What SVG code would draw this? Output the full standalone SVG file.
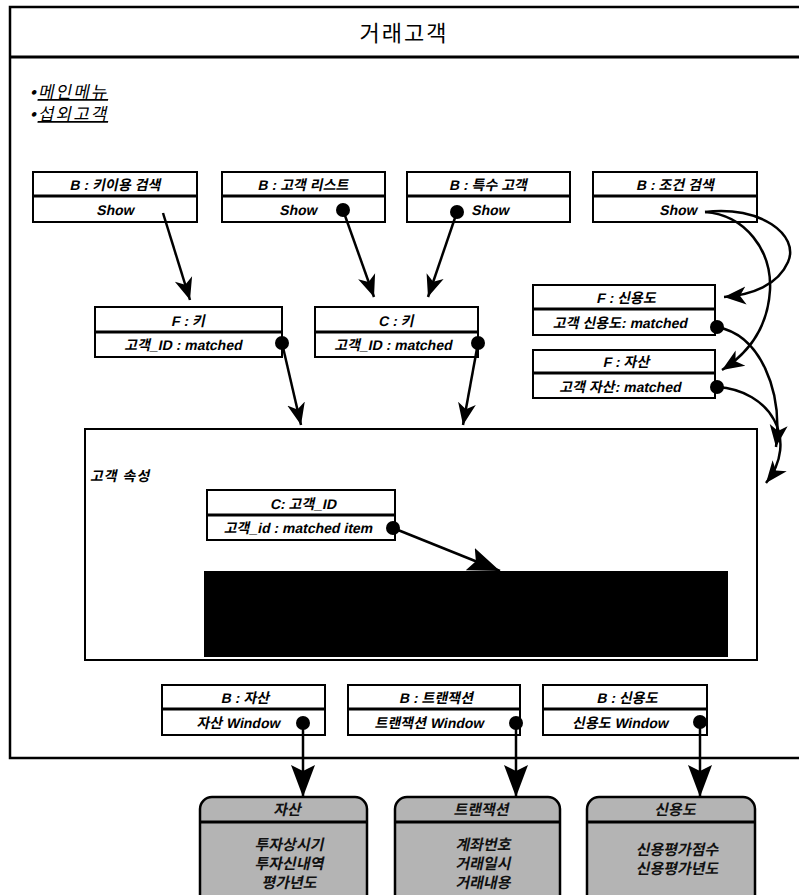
<svg xmlns="http://www.w3.org/2000/svg" width="799" height="895" viewBox="0 0 799 895">
<style>
.t{font-family:"Liberation Sans","Noto Sans CJK KR",sans-serif;font-weight:bold;font-size:14px;fill:#000;text-anchor:middle}
.box{fill:#fff;stroke:#000;stroke-width:2}
.div{stroke:#000;stroke-width:3}
.frame{fill:none;stroke:#000;stroke-width:2.5}
.con{fill:none;stroke:#000;stroke-width:2.5}
.dot{fill:#000}
.gray{fill:#b4b4b4;stroke:#000;stroke-width:2.5}
.gt{font-family:"Liberation Sans","Noto Sans CJK KR",sans-serif;font-weight:bold;font-size:15px;fill:#111;text-anchor:middle}
.menu{font-family:"Liberation Sans","Noto Sans CJK KR",sans-serif;font-size:17px;letter-spacing:2px;fill:#000}
</style>
<defs>
<marker id="ah" viewBox="-22 -10 24 20" refX="0" refY="0" markerWidth="24" markerHeight="20" markerUnits="userSpaceOnUse" orient="auto">
<path d="M0,0 L-22,-9 L-16,0 L-22,9 z" fill="#000"/>
</marker>
<marker id="ah2" viewBox="-32 -13 34 26" refX="0" refY="0" markerWidth="34" markerHeight="26" markerUnits="userSpaceOnUse" orient="auto">
<path d="M0,0 L-32,-12 L-26,0 L-32,12 z" fill="#000"/>
</marker>
</defs>
<rect width="799" height="895" fill="#fff"/>
<g id="frame">
<path class="frame" d="M810,7 H10 V758 H810"/>
<line x1="10" y1="57" x2="799" y2="57" stroke="#000" stroke-width="3"/>
<text x="404" y="41" font-family="'Noto Sans CJK KR',sans-serif" font-size="22" letter-spacing="2" text-anchor="middle">거래고객</text>
<text class="menu" transform="matrix(1,0,-0.21,1,30,98)">•<tspan text-decoration="underline">메인메뉴</tspan></text>
<text class="menu" transform="matrix(1,0,-0.21,1,30,120)">•<tspan text-decoration="underline">섭외고객</tspan></text>
</g>
<g id="inner">
<rect x="85" y="429" width="672" height="231" fill="none" stroke="#000" stroke-width="2"/>
<text transform="matrix(1,0,-0.21,1,90,481)" font-family="'Liberation Sans','Noto Sans CJK KR',sans-serif" font-weight="bold" font-size="14" letter-spacing="1">고객 속성</text>
<rect x="204" y="571" width="524" height="86" fill="#000"/>
</g>
<g id="b-key">
<rect class="box" x="33" y="172" width="164" height="50"/><line class="div" x1="33" y1="196" x2="197" y2="196"/>
<text class="t" transform="matrix(1,0,-0.21,1,115,190)">B : 키이용 검색</text><text class="t" transform="matrix(1,0,-0.21,1,115,215)">Show</text>
</g>
<g id="b-list">
<rect class="box" x="222" y="172" width="163" height="50"/><line class="div" x1="222" y1="196" x2="385" y2="196"/>
<text class="t" transform="matrix(1,0,-0.21,1,303,190)">B : 고객 리스트</text><text class="t" transform="matrix(1,0,-0.21,1,298,215)">Show</text>
</g>
<g id="b-special">
<rect class="box" x="407" y="172" width="163" height="50"/><line class="div" x1="407" y1="196" x2="570" y2="196"/>
<text class="t" transform="matrix(1,0,-0.21,1,488,190)">B : 특수 고객</text><text class="t" transform="matrix(1,0,-0.21,1,490,215)">Show</text>
</g>
<g id="b-cond">
<rect class="box" x="593" y="172" width="164" height="50"/><line class="div" x1="593" y1="196" x2="757" y2="196"/>
<text class="t" transform="matrix(1,0,-0.21,1,675,190)">B : 조건 검색</text><text class="t" transform="matrix(1,0,-0.21,1,678,215)">Show</text>
</g>
<g id="f-key">
<rect class="box" x="95" y="307" width="187" height="50"/><line class="div" x1="95" y1="332" x2="282" y2="332"/>
<text class="t" transform="matrix(1,0,-0.21,1,188,326)">F : 키</text><text class="t" transform="matrix(1,0,-0.21,1,183,350)">고객_ID : matched</text>
</g>
<g id="c-key">
<rect class="box" x="315" y="307" width="163" height="50"/><line class="div" x1="315" y1="332" x2="478" y2="332"/>
<text class="t" transform="matrix(1,0,-0.21,1,396,326)">C : 키</text><text class="t" transform="matrix(1,0,-0.21,1,393,350)">고객_ID : matched</text>
</g>
<g id="f-credit">
<rect class="box" x="533" y="285" width="182" height="50"/><line class="div" x1="533" y1="309" x2="715" y2="309"/>
<text class="t" transform="matrix(1,0,-0.21,1,626,303)">F : 신용도</text><text class="t" transform="matrix(1,0,-0.21,1,620,328)">고객 신용도: matched</text>
</g>
<g id="f-asset">
<rect class="box" x="533" y="350" width="182" height="48"/><line class="div" x1="533" y1="373" x2="715" y2="373"/>
<text class="t" transform="matrix(1,0,-0.21,1,626,367)">F : 자산</text><text class="t" transform="matrix(1,0,-0.21,1,620,392)">고객 자산: matched</text>
</g>
<g id="c-custid">
<rect class="box" x="207" y="490" width="188" height="50"/><line class="div" x1="207" y1="515" x2="395" y2="515"/>
<text class="t" transform="matrix(1,0,-0.21,1,303,509)">C: 고객_ID</text><text class="t" transform="matrix(1,0,-0.21,1,298,533)">고객_id : matched item</text>
</g>
<g id="b-asset">
<rect class="box" x="162" y="685" width="163" height="50"/><line class="div" x1="162" y1="709" x2="325" y2="709"/>
<text class="t" transform="matrix(1,0,-0.21,1,245,703)">B : 자산</text><text class="t" transform="matrix(1,0,-0.21,1,238,728)">자산 Window</text>
</g>
<g id="b-trans">
<rect class="box" x="348" y="685" width="172" height="50"/><line class="div" x1="348" y1="709" x2="520" y2="709"/>
<text class="t" transform="matrix(1,0,-0.21,1,436,703)">B : 트랜잭션</text><text class="t" transform="matrix(1,0,-0.21,1,429,728)">트랜잭션 Window</text>
</g>
<g id="b-credit">
<rect class="box" x="543" y="685" width="164" height="50"/><line class="div" x1="543" y1="709" x2="707" y2="709"/>
<text class="t" transform="matrix(1,0,-0.21,1,627,703)">B : 신용도</text><text class="t" transform="matrix(1,0,-0.21,1,620,728)">신용도 Window</text>
</g>
<g id="g-asset">
<rect class="gray" x="200" y="797" width="167" height="110" rx="12"/><line class="div" x1="200" y1="822" x2="367" y2="822"/>
<text class="gt" transform="matrix(1,0,-0.21,1,287,815)">자산</text>
<text class="gt" transform="matrix(1,0,-0.21,1,289,850)">투자상시기</text><text class="gt" transform="matrix(1,0,-0.21,1,289,869)">투자신내역</text><text class="gt" transform="matrix(1,0,-0.21,1,289,888)">평가년도</text>
</g>
<g id="g-trans">
<rect class="gray" x="395" y="797" width="165" height="110" rx="12"/><line class="div" x1="395" y1="822" x2="560" y2="822"/>
<text class="gt" transform="matrix(1,0,-0.21,1,481,815)">트랜잭션</text>
<text class="gt" transform="matrix(1,0,-0.21,1,483,850)">계좌번호</text><text class="gt" transform="matrix(1,0,-0.21,1,483,869)">거래일시</text><text class="gt" transform="matrix(1,0,-0.21,1,483,888)">거래내용</text>
</g>
<g id="g-credit">
<rect class="gray" x="587" y="797" width="168" height="110" rx="12"/><line class="div" x1="587" y1="822" x2="755" y2="822"/>
<text class="gt" transform="matrix(1,0,-0.21,1,675,815)">신용도</text>
<text class="gt" transform="matrix(1,0,-0.21,1,677,855)">신용평가점수</text><text class="gt" transform="matrix(1,0,-0.21,1,677,874)">신용평가년도</text>
</g>
<g id="connectors">
<path class="con" d="M163,213 L190,300" marker-end="url(#ah)"/>
<circle class="dot" cx="343" cy="210" r="7"/>
<path class="con" d="M343,210 L374,297" marker-end="url(#ah)"/>
<circle class="dot" cx="457" cy="212" r="7"/>
<path class="con" d="M457,212 L428,297" marker-end="url(#ah)"/>
<path class="con" d="M705,212 C760,205 800,235 788,262 C778,285 752,295 724,297" marker-end="url(#ah)"/>
<path class="con" d="M705,212 C745,215 772,250 770,290 C768,325 750,352 722,370" marker-end="url(#ah)"/>
<circle class="dot" cx="282" cy="343" r="7"/>
<path class="con" d="M282,343 L301,425" marker-end="url(#ah)"/>
<circle class="dot" cx="478" cy="343" r="7"/>
<path class="con" d="M478,343 L463,425" marker-end="url(#ah)"/>
<circle class="dot" cx="717" cy="327" r="7"/>
<path class="con" d="M717,327 C760,335 783,390 776,447" marker-end="url(#ah)"/>
<circle class="dot" cx="717" cy="387" r="7"/>
<path class="con" d="M717,387 C770,390 800,440 766,483" marker-end="url(#ah)"/>
<circle class="dot" cx="393" cy="528" r="7"/>
<path class="con" d="M393,528 L500,571" marker-end="url(#ah2)"/>
<circle class="dot" cx="303" cy="723" r="7"/>
<path class="con" d="M303,723 V797" marker-end="url(#ah2)"/>
<circle class="dot" cx="516" cy="723" r="7"/>
<path class="con" d="M516,723 V797" marker-end="url(#ah2)"/>
<circle class="dot" cx="700" cy="722" r="7"/>
<path class="con" d="M700,722 V797" marker-end="url(#ah2)"/>
</g>
</svg>
